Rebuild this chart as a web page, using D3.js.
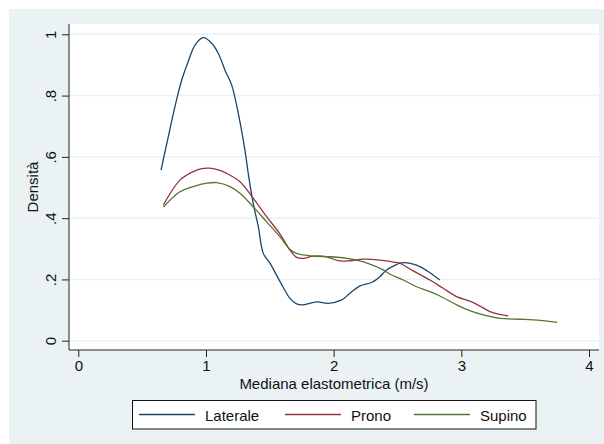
<!DOCTYPE html>
<html>
<head>
<meta charset="utf-8">
<script src="https://cdn.jsdelivr.net/npm/d3@7"></script>
<style>
  html, body { margin: 0; padding: 0; background: #ffffff; }
  svg { display: block; font-family: "Liberation Sans", Arial, sans-serif; }
</style>
</head>
<body>
<svg id="chart" width="604" height="444"></svg>
<script>
// Kernel density estimates of median elastometric speed, by patient position
const seriesNames = ["Laterale", "Prono", "Supino"];
const seriesColors = ["#1a476f", "#90353b", "#55752f"];

const lateraleX = [0.648, 0.705, 0.757, 0.810, 0.861, 0.914, 0.979, 1.045, 1.096, 1.149, 1.201, 1.253, 1.305, 1.331, 1.370, 1.410, 1.449, 1.501, 1.580, 1.658, 1.710, 1.762, 1.867, 1.958, 2.063, 2.128, 2.206, 2.297, 2.362, 2.415, 2.480, 2.519, 2.558, 2.600, 2.676, 2.754, 2.832];
const lateraleY = [0.557, 0.666, 0.764, 0.851, 0.911, 0.965, 0.989, 0.971, 0.938, 0.883, 0.835, 0.742, 0.622, 0.546, 0.448, 0.372, 0.285, 0.253, 0.193, 0.138, 0.120, 0.117, 0.127, 0.122, 0.133, 0.155, 0.179, 0.190, 0.209, 0.231, 0.246, 0.253, 0.255, 0.252, 0.242, 0.222, 0.198];

const pronoX = [0.666, 0.796, 0.901, 0.960, 1.026, 1.090, 1.162, 1.266, 1.370, 1.475, 1.580, 1.658, 1.710, 1.762, 1.840, 1.945, 2.036, 2.128, 2.232, 2.362, 2.450, 2.519, 2.545, 2.623, 2.754, 2.858, 2.963, 3.081, 3.146, 3.224, 3.302, 3.367];
const pronoY = [0.443, 0.524, 0.552, 0.561, 0.563, 0.558, 0.546, 0.519, 0.465, 0.405, 0.348, 0.296, 0.272, 0.269, 0.276, 0.274, 0.261, 0.261, 0.266, 0.263, 0.258, 0.253, 0.247, 0.228, 0.198, 0.171, 0.144, 0.127, 0.113, 0.095, 0.086, 0.081];

const supinoX = [0.666, 0.796, 0.901, 1.005, 1.084, 1.188, 1.266, 1.370, 1.475, 1.580, 1.658, 1.710, 1.840, 1.971, 2.102, 2.180, 2.284, 2.388, 2.441, 2.545, 2.650, 2.754, 2.832, 2.963, 3.067, 3.172, 3.302, 3.459, 3.563, 3.751];
const supinoY = [0.436, 0.486, 0.503, 0.514, 0.516, 0.503, 0.481, 0.437, 0.388, 0.339, 0.298, 0.285, 0.276, 0.274, 0.269, 0.263, 0.250, 0.231, 0.217, 0.198, 0.176, 0.160, 0.146, 0.117, 0.098, 0.084, 0.073, 0.070, 0.068, 0.060];

const xTicks = [0, 1, 2, 3, 4];
const yTicks = [0, 0.2, 0.4, 0.6, 0.8, 1];
const yTickLabels = ["0", ".2", ".4", ".6", ".8", "1"];
const xTitle = "Mediana elastometrica (m/s)";
const yTitle = "Densità";

const series = [
  { name: seriesNames[0], color: seriesColors[0], xs: lateraleX, ys: lateraleY },
  { name: seriesNames[1], color: seriesColors[1], xs: pronoX, ys: pronoY },
  { name: seriesNames[2], color: seriesColors[2], xs: supinoX, ys: supinoY }
];

const svg = d3.select("#chart");
const bg = "#eaf2f3";

// graph region
svg.append("rect").attr("x", 9).attr("y", 9).attr("width", 595).attr("height", 435).attr("fill", bg);

// plot region
const plot = { left: 69, right: 599, top: 24, bottom: 350 };
svg.append("rect")
  .attr("x", plot.left).attr("y", plot.top)
  .attr("width", plot.right - plot.left).attr("height", plot.bottom - plot.top)
  .attr("fill", "#ffffff");

const x = d3.scaleLinear().domain([0, 4]).range([78.3, 589]);
const y = d3.scaleLinear().domain([0, 1]).range([340.7, 34.3]);

// horizontal grid lines
svg.append("g").selectAll("line").data(yTicks).join("line")
  .attr("x1", plot.left).attr("x2", plot.right)
  .attr("y1", d => y(d)).attr("y2", d => y(d))
  .attr("stroke", bg).attr("stroke-width", 1.5);

// density curves
const line = d3.line().x(d => x(d[0])).y(d => y(d[1])).curve(d3.curveCatmullRom.alpha(0.5));
svg.append("g").selectAll("path").data(series).join("path")
  .attr("d", s => line(s.xs.map((v, i) => [v, s.ys[i]])))
  .attr("fill", "none")
  .attr("stroke", s => s.color)
  .attr("stroke-width", 1.3)
  .attr("stroke-linejoin", "round");

// y axis
const yAxis = d3.axisLeft(y).tickValues(yTicks).tickSize(7).tickPadding(6)
  .tickFormat((d, i) => yTickLabels[i]);
const gy = svg.append("g").attr("transform", `translate(${plot.left},0)`).call(yAxis);
gy.select(".domain").attr("d", `M0,${plot.top}V${plot.bottom}`).attr("stroke", "#222");
gy.selectAll(".tick line").attr("stroke", "#222");
gy.selectAll(".tick text")
  .attr("font-size", 15).attr("fill", "#111")
  .attr("text-anchor", "middle")
  .attr("dy", 0)
  .attr("transform", "rotate(-90)")
  .attr("x", 0).attr("y", -13.5);

// x axis
const xAxis = d3.axisBottom(x).tickValues(xTicks).tickSize(7).tickPadding(4)
  .tickFormat(d3.format("d"));
const gx = svg.append("g").attr("transform", `translate(0,${plot.bottom})`).call(xAxis);
gx.select(".domain").attr("d", `M${plot.left},0H${plot.right}`).attr("stroke", "#222");
gx.selectAll(".tick line").attr("stroke", "#222");
gx.selectAll(".tick text").attr("font-size", 15).attr("fill", "#111")
  .attr("dy", 0).attr("y", 21);

// axis titles
svg.append("text")
  .attr("x", (plot.left + plot.right) / 2).attr("y", 388.5)
  .attr("text-anchor", "middle").attr("font-size", 15).attr("fill", "#111")
  .text(xTitle);
svg.append("text")
  .attr("transform", `translate(38,${(plot.top + plot.bottom) / 2}) rotate(-90)`)
  .attr("text-anchor", "middle").attr("font-size", 15).attr("fill", "#111")
  .text(yTitle);

// legend
const legend = svg.append("g");
legend.append("rect")
  .attr("x", 132.5).attr("y", 400.5).attr("width", 403.5).attr("height", 28.5)
  .attr("fill", "#ffffff").attr("stroke", "#111").attr("stroke-width", 1);
const legendLineX = [139, 285, 414];
const items = legend.selectAll("g.item").data(series).join("g").attr("class", "item")
  .attr("transform", (d, i) => `translate(${legendLineX[i]},0)`);
items.append("line")
  .attr("x1", 0).attr("x2", 56).attr("y1", 414.5).attr("y2", 414.5)
  .attr("stroke", d => d.color).attr("stroke-width", 1.3);
items.append("text")
  .attr("x", 66).attr("y", 420.5)
  .attr("font-size", 15).attr("fill", "#111")
  .text(d => d.name);
</script>
</body>
</html>
